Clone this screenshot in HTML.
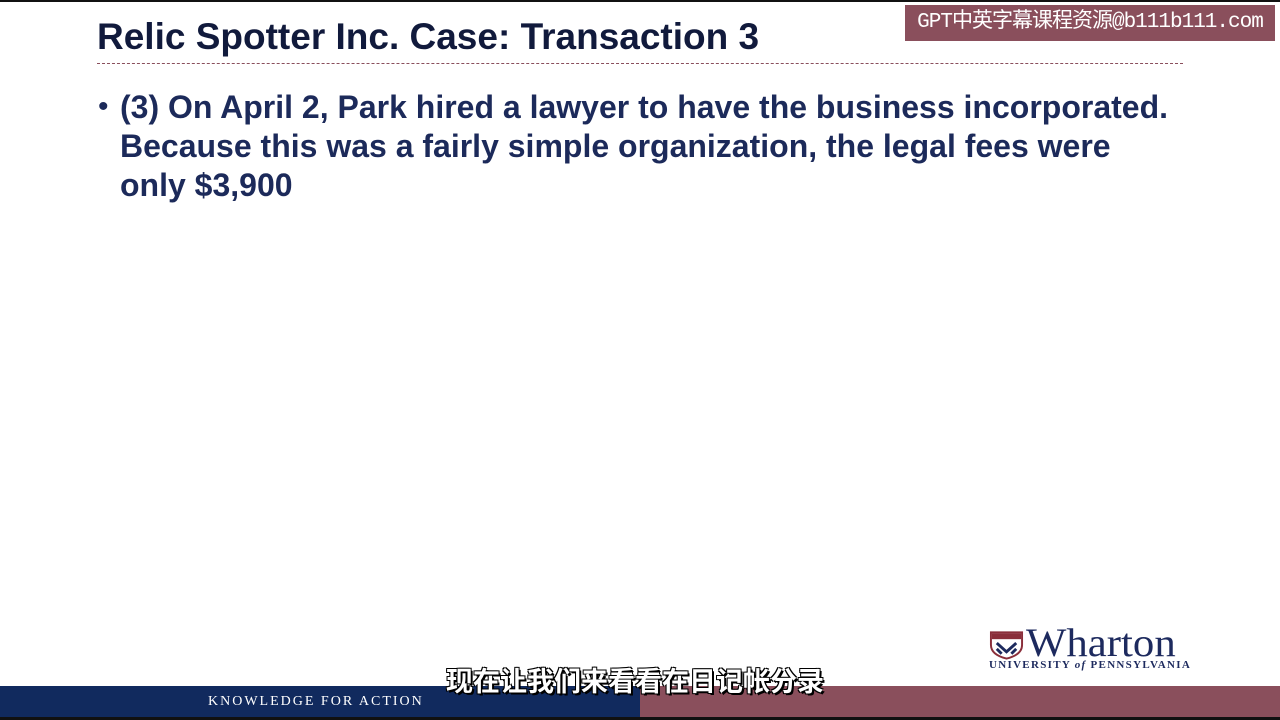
<!DOCTYPE html>
<html><head><meta charset="utf-8"><style>
body{margin:0;width:1280px;height:720px;overflow:hidden;background:#fff;position:relative;font-family:"Liberation Sans","Noto Sans CJK SC",sans-serif}
div,span{position:absolute}
</style></head><body>
<div style="left:0;top:0;width:1280px;height:2px;background:#111"></div>
<div style="left:905px;top:5px;width:370px;height:36px;background:#8a4f5c;color:#fff;font-size:21px;line-height:36px;text-align:center;white-space:nowrap;font-family:'Liberation Mono','Noto Sans CJK SC',monospace;letter-spacing:-1px">GPT中英字幕课程资源@b111b111.com</div>
<div style="left:97px;top:16px;font-size:37px;font-weight:bold;color:#111a3c;white-space:nowrap">Relic Spotter Inc. Case: Transaction 3</div>
<div style="left:97px;top:63px;width:1086px;border-top:1px dashed #8a4f5c"></div>
<div style="left:98px;top:90px;font-size:30px;color:#1c2a5a">•</div>
<div style="left:120px;top:88px;font-size:32px;font-weight:bold;line-height:39px;color:#1c2a5a;white-space:nowrap">(3) On April 2, Park hired a lawyer to have the business incorporated.<br>Because this was a fairly simple organization, the legal fees were<br>only $3,900</div>
<div style="left:989px;top:628px;width:202px;height:45px">
 <svg width="35" height="30" viewBox="0 0 36 30" style="position:absolute;left:0;top:2px"><path d="M2 2H34V15Q34 25 18 29Q2 25 2 15Z" fill="#fff" stroke="#8a2e3a" stroke-width="2"/><rect x="3" y="3" width="30" height="6" fill="#8a2e3a"/><path d="M8 13L18 22L28 13M8 19L13 24M28 19L23 24" stroke="#1d2a5e" stroke-width="3" fill="none"/></svg>
 <span style="left:37px;top:-9px;font-family:'Liberation Serif',serif;font-size:40px;color:#1d2a5e;transform:scaleX(1.07);transform-origin:left;white-space:nowrap">Wharton</span>
 <span style="left:0;top:31px;font-family:'Liberation Serif',serif;font-size:11px;font-weight:bold;color:#1d2a5e;letter-spacing:1.3px;white-space:nowrap">UNIVERSITY <i>of</i> PENNSYLVANIA</span>
</div>
<div style="left:0;top:686px;width:640px;height:31px;background:#112a5e"></div>
<div style="left:640px;top:686px;width:640px;height:31px;background:#8a4f5c"></div>
<div style="left:0;top:717px;width:1280px;height:3px;background:#111"></div>
<div style="left:208px;top:694px;font-family:'Liberation Serif',serif;font-size:14px;color:#fff;letter-spacing:2px">KNOWLEDGE FOR ACTION</div>
<div style="left:446px;top:660px;font-size:27px;color:#fff;font-weight:bold;white-space:nowrap;text-shadow:2px 2px 0 #000,-1px -1px 0 #000,1px -1px 0 #000,-1px 1px 0 #000">现在让我们来看看在日记帐分录</div>
</body></html>
